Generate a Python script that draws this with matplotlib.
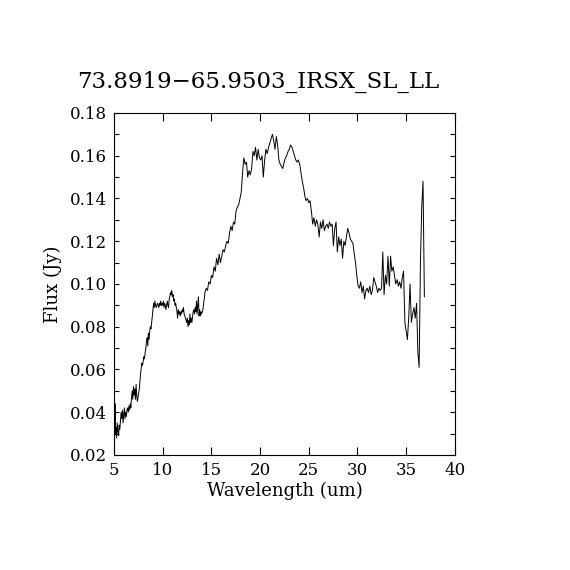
import matplotlib
matplotlib.use('Agg')
import matplotlib.pyplot as plt
from matplotlib.ticker import MultipleLocator
import numpy as np

title = "73.8919\u221265.9503_IRSX_SL_LL"

# wavelength (um) and flux (Jy)
wave = [5.05, 5.10, 5.15, 5.20, 5.27, 5.33, 5.40, 5.47, 5.53, 5.60, 5.67, 5.73, 5.80, 5.87, 5.93,
        6.00, 6.07, 6.13, 6.20, 6.27, 6.33, 6.40, 6.47, 6.53, 6.60, 6.67, 6.73, 6.80, 6.87, 6.93,
        7.00, 7.07, 7.13, 7.20, 7.27, 7.33, 7.40, 7.47, 7.53, 7.60, 7.67, 7.73, 7.80, 7.87, 7.93,
        8.00, 8.07, 8.13, 8.20, 8.27, 8.33, 8.40, 8.47, 8.53, 8.60, 8.67, 8.73, 8.80, 8.87, 8.93,
        9.00, 9.07, 9.13, 9.20, 9.27, 9.33, 9.40, 9.47, 9.53, 9.60, 9.67, 9.73, 9.80, 9.87, 9.93,
        10.00, 10.07, 10.13, 10.20, 10.27, 10.33, 10.40, 10.47, 10.53, 10.60, 10.67, 10.73, 10.80,
        10.87, 10.93, 11.00, 11.07, 11.13, 11.20, 11.27, 11.33, 11.40, 11.47, 11.53, 11.60, 11.67,
        11.73, 11.80, 11.87, 11.93, 12.00, 12.07, 12.13, 12.20, 12.27, 12.33, 12.40, 12.47, 12.53,
        12.60, 12.67, 12.73, 12.80, 12.87, 12.93, 13.00, 13.07, 13.13, 13.20, 13.27, 13.33, 13.40,
        13.47, 13.53, 13.60, 13.67, 13.73, 13.80, 13.87, 13.93, 14.00, 14.07, 14.13, 14.20, 14.27,
        14.33, 14.47, 14.60, 14.73, 14.87, 15.00, 15.13, 15.27, 15.40, 15.53, 15.67, 15.80, 15.93,
        16.07, 16.20, 16.33, 16.47, 16.60, 16.73, 16.87, 17.00, 17.13, 17.27, 17.40, 17.53, 17.67,
        17.80, 17.93, 18.07, 18.20, 18.33, 18.47, 18.60, 18.73, 18.87, 19.00, 19.13, 19.27, 19.40,
        19.53, 19.67, 19.80, 19.93, 20.07, 20.20, 20.33, 20.47, 20.60, 20.73, 20.87, 21.00, 21.13,
        21.27, 21.40, 21.53, 21.67, 21.80, 21.93, 22.07, 22.20, 22.33, 22.47, 22.60, 22.73, 22.87,
        23.00, 23.13, 23.27, 23.40, 23.53, 23.67, 23.80, 23.93, 24.07, 24.20, 24.33, 24.47, 24.60,
        24.73, 24.87, 25.00, 25.13, 25.27, 25.40, 25.53, 25.67, 25.80, 25.93, 26.07, 26.20, 26.33,
        26.47, 26.60, 26.73, 26.87, 27.00, 27.13, 27.27, 27.40, 27.53, 27.67, 27.80, 27.93, 28.07,
        28.20, 28.33, 28.47, 28.60, 28.73, 28.87, 29.00, 29.13, 29.27, 29.40, 29.53, 29.67, 29.80,
        29.93, 30.07, 30.20, 30.33, 30.47, 30.60, 30.73, 30.87, 31.00, 31.13, 31.27, 31.40, 31.53,
        31.67, 31.80, 31.93, 32.07, 32.20, 32.33, 32.47, 32.60, 32.73, 32.87, 33.00, 33.13, 33.27,
        33.40, 33.53, 33.67, 33.80, 33.93, 34.07, 34.20, 34.33, 34.47, 34.60, 34.73, 34.87, 35.00,
        35.13, 35.27, 35.40, 35.53, 35.67, 35.80, 35.93, 36.07, 36.20, 36.33, 36.47, 36.60, 36.73,
        36.87]
flux = [0.024, 0.044, 0.030, 0.033, 0.028, 0.035, 0.031, 0.029, 0.034, 0.032, 0.036, 0.040, 0.037, 0.041, 0.035,
        0.039, 0.042, 0.037, 0.040, 0.038, 0.041, 0.042, 0.040, 0.043, 0.041, 0.044, 0.042, 0.047, 0.050, 0.046,
        0.052, 0.048, 0.051, 0.046, 0.053, 0.048, 0.045, 0.047, 0.049, 0.051, 0.055, 0.058, 0.061, 0.063, 0.062,
        0.064, 0.066, 0.065, 0.068, 0.070, 0.073, 0.075, 0.071, 0.077, 0.074, 0.078, 0.080, 0.079, 0.082, 0.085,
        0.088, 0.091, 0.089, 0.092, 0.090, 0.089, 0.090, 0.091, 0.090, 0.089, 0.091, 0.090, 0.092, 0.090, 0.091,
        0.090, 0.092, 0.089, 0.091, 0.090, 0.088, 0.090, 0.092, 0.090, 0.089, 0.093, 0.094, 0.096,
        0.095, 0.097, 0.094, 0.095, 0.092, 0.093, 0.090, 0.091, 0.089, 0.087, 0.084, 0.088, 0.086,
        0.087, 0.085, 0.087, 0.086, 0.088, 0.087, 0.089, 0.086, 0.085, 0.084, 0.083, 0.082, 0.084,
        0.080, 0.083, 0.081, 0.086, 0.082, 0.084, 0.082, 0.085, 0.087, 0.088, 0.086, 0.089, 0.087,
        0.092, 0.086, 0.090, 0.094, 0.085, 0.088, 0.085, 0.087, 0.086, 0.087, 0.088, 0.091, 0.093,
        0.096, 0.098, 0.097, 0.101, 0.100, 0.104, 0.103, 0.108, 0.106, 0.112, 0.109, 0.114, 0.110,
        0.113, 0.116, 0.115, 0.118, 0.120, 0.119, 0.124, 0.127, 0.125, 0.129, 0.128, 0.134, 0.136,
        0.137, 0.140, 0.143, 0.152, 0.159, 0.156, 0.157, 0.150, 0.153, 0.151, 0.154, 0.162, 0.160,
        0.164, 0.158, 0.163, 0.159, 0.158, 0.160, 0.150, 0.158, 0.163, 0.161, 0.164, 0.166, 0.168,
        0.170, 0.167, 0.163, 0.169, 0.165, 0.158, 0.156, 0.155, 0.154, 0.157, 0.159, 0.160, 0.162,
        0.163, 0.165, 0.164, 0.162, 0.160, 0.158, 0.157, 0.158, 0.156, 0.152, 0.148, 0.145, 0.141,
        0.139, 0.140, 0.138, 0.139, 0.134, 0.128, 0.131, 0.127, 0.130, 0.128, 0.122, 0.129, 0.126,
        0.130, 0.125, 0.127, 0.128, 0.126, 0.129, 0.127, 0.128, 0.118, 0.126, 0.129, 0.115, 0.122,
        0.118, 0.121, 0.112, 0.120, 0.118, 0.122, 0.126, 0.124, 0.121, 0.120, 0.119, 0.114, 0.110,
        0.104, 0.099, 0.098, 0.101, 0.096, 0.099, 0.093, 0.097, 0.098, 0.096, 0.099, 0.095, 0.097,
        0.103, 0.101, 0.099, 0.096, 0.098, 0.097, 0.098, 0.115, 0.095, 0.104, 0.100, 0.113, 0.099,
        0.113, 0.106, 0.108, 0.104, 0.100, 0.102, 0.099, 0.101, 0.098, 0.103, 0.106, 0.082, 0.078,
        0.074, 0.085, 0.100, 0.082, 0.086, 0.089, 0.084, 0.091, 0.068, 0.061, 0.111, 0.136, 0.148,
        0.094]

plt.rcParams['font.family'] = 'DejaVu Serif'

fig = plt.figure(figsize=(5.7, 5.7), dpi=100)
ax = fig.add_axes([0.2, 0.2018, 0.598, 0.6])

ax.plot(wave, flux, color='black', lw=0.7)

ax.set_xlim(5, 40)
ax.set_ylim(0.02, 0.18)
ax.xaxis.set_major_locator(MultipleLocator(5))
ax.yaxis.set_major_locator(MultipleLocator(0.02))
ax.yaxis.set_minor_locator(MultipleLocator(0.01))
ax.tick_params(which='both', direction='in', top=True, right=True, labelsize=12, width=0.8)
ax.tick_params(axis='x', which='major', length=6, pad=5)
ax.tick_params(axis='y', which='both', length=3.5, pad=5)
ax.yaxis.set_major_formatter(plt.FuncFormatter(lambda v, p: '%.2f' % v))
for s in ax.spines.values():
    s.set_linewidth(0.8)

ax.set_xlabel('Wavelength (um)', fontsize=13, labelpad=2)
ax.set_ylabel('Flux (Jy)', fontsize=13, labelpad=6)
# title sits a bit left of the axes centre, as in the original
fig.text(0.453, 0.856, title, fontsize=16.5, ha='center', va='center')

fig.savefig('out.png', dpi=100)
